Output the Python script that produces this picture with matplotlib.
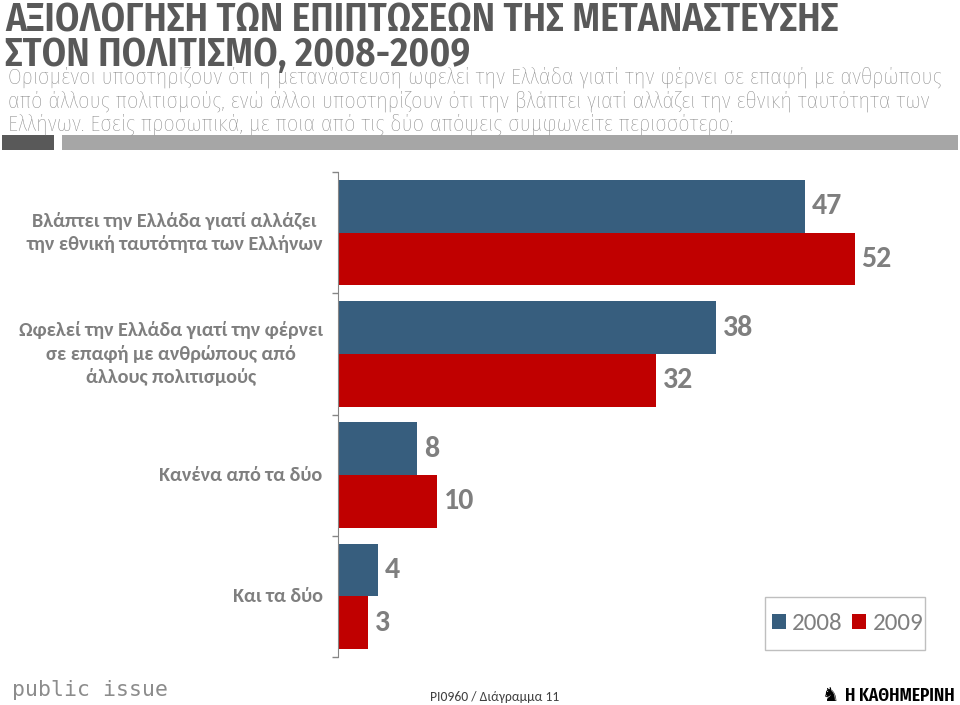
import matplotlib
matplotlib.use("Agg")
import matplotlib.pyplot as plt
from matplotlib.patches import Patch, Rectangle

# data
categories = [
    "Βλάπτει την Ελλάδα γιατί αλλάζει\nτην εθνική ταυτότητα των Ελλήνων",
    "Ωφελεί την Ελλάδα γιατί την φέρνει\nσε επαφή με ανθρώπους από\nάλλους πολιτισμούς",
    "Κανένα από τα δύο",
    "Και τα δύο",
]
years = ["2008", "2009"]
v2008 = [47, 38, 8, 4]
v2009 = [52, 32, 10, 3]

title = "ΑΞΙΟΛΟΓΗΣΗ ΤΩΝ ΕΠΙΠΤΩΣΕΩΝ ΤΗΣ ΜΕΤΑΝΑΣΤΕΥΣΗΣ\nΣΤΟΝ ΠΟΛΙΤΙΣΜΟ, 2008-2009"
subtitle_lines = [
    "Ορισμένοι υποστηρίζουν ότι η μετανάστευση ωφελεί την Ελλάδα γιατί την φέρνει σε επαφή με ανθρώπους",
    "από άλλους πολιτισμούς, ενώ άλλοι υποστηρίζουν ότι την βλάπτει γιατί αλλάζει την εθνική ταυτότητα των",
    "Ελλήνων. Εσείς προσωπικά, με ποια από τις δύο απόψεις συμφωνείτε περισσότερο;",
]

BLUE = "#375E7E"
RED = "#C00000"
GREY_TXT = "#595959"
GREY_NUM = "#7F7F7F"
LABEL_FONT = ["Carlito", "DejaVu Sans"]
COND_FONT = ["Fira Sans Condensed", "DejaVu Sans"]
XCOND_FONT = ["Fira Sans Extra Condensed", "DejaVu Sans"]

W, H = 960, 705
fig = plt.figure(figsize=(W / 100, H / 100), dpi=100)


def px(x, y):
    return x / W, 1 - y / H


# header
fig.text(*px(5, 1), title, va="top", ha="left", family=COND_FONT, weight="semibold",
         fontsize=28.2, color=GREY_TXT, linespacing=0.87)
for line, base in zip(subtitle_lines, [84, 107.5, 131]):
    fig.text(*px(8, base), line, va="baseline", ha="left", family=COND_FONT,
             weight="light", fontsize=16, color=GREY_NUM)
fig.patches.append(Rectangle(px(2, 150), 52 / W, 15 / H, transform=fig.transFigure,
                             facecolor="#595959", edgecolor="none"))
fig.patches.append(Rectangle(px(62, 150), 896 / W, 15 / H, transform=fig.transFigure,
                             facecolor="#A6A6A6", edgecolor="none"))

# bars
ax = fig.add_axes([338 / W, 1 - 657 / H, 616 / W, 485 / H])
h = 0.435
pos = range(len(categories))
b1 = ax.barh([p - h / 2 for p in pos], v2008, height=h, color=BLUE)
b2 = ax.barh([p + h / 2 for p in pos], v2009, height=h, color=RED)
for bars in (b1, b2):
    for r in bars:
        ax.annotate(str(int(r.get_width())), (r.get_width(), r.get_y() + r.get_height() / 2),
                    xytext=(5, 0), textcoords="offset points", va="center", ha="left",
                    family=LABEL_FONT, weight="bold", fontsize=21.5, color=GREY_NUM)

ax.set_xlim(0, 62)
ax.set_ylim(3.5, -0.5)
ax.set_xticks([])
ax.set_yticks([-0.5, 0.5, 1.5, 2.5, 3.5])
ax.set_yticklabels([])
ax.tick_params(axis="y", direction="out", length=4, width=1, color="#868686")
for s in ("top", "right", "bottom"):
    ax.spines[s].set_visible(False)
ax.spines["left"].set_color("#868686")
ax.patch.set_alpha(0)

for p, lab in zip(pos, categories):
    ax.annotate(lab, (0, p), xycoords=("axes fraction", "data"), xytext=(-11, 0),
                textcoords="offset points", ha="right", va="center", multialignment="center",
                family=LABEL_FONT, weight="bold", fontsize=14.5, color=GREY_NUM,
                linespacing=1.37)

# legend: entries without frame, plus a plain box round them
handles = [Patch(facecolor=BLUE), Patch(facecolor=RED)]
leg = fig.legend(handles, years, loc="center", bbox_to_anchor=px(847.5, 624), ncol=2,
                 frameon=False, handlelength=0.56, handleheight=0.56, handletextpad=0.24,
                 columnspacing=0.4, borderpad=0, prop={"family": LABEL_FONT, "size": 18})
for t in leg.get_texts():
    t.set_color(GREY_NUM)
fig.patches.append(Rectangle(px(765, 650), 160 / W, 53 / H, transform=fig.transFigure,
                             facecolor="none", edgecolor="#BFBFBF", linewidth=1))

# footer
fig.text(*px(12, 690), "public issue", va="center", ha="left", family="DejaVu Sans Mono",
         fontsize=15.5, color="#8C8C8C")
fig.text(*px(495, 697), "PI0960 / Διάγραμμα 11", va="center", ha="center",
         family=LABEL_FONT, fontsize=9.8, color="#404040")
fig.text(*px(839, 701), "\u265e", va="baseline", ha="right", family="DejaVu Sans",
         fontsize=14, color="black")
fig.text(*px(955, 701), "Η ΚΑΘΗΜΕΡΙΝΗ", va="baseline", ha="right",
         family=XCOND_FONT, weight="semibold", fontsize=13.5, color="black")

fig.savefig("out.png", dpi=100)
